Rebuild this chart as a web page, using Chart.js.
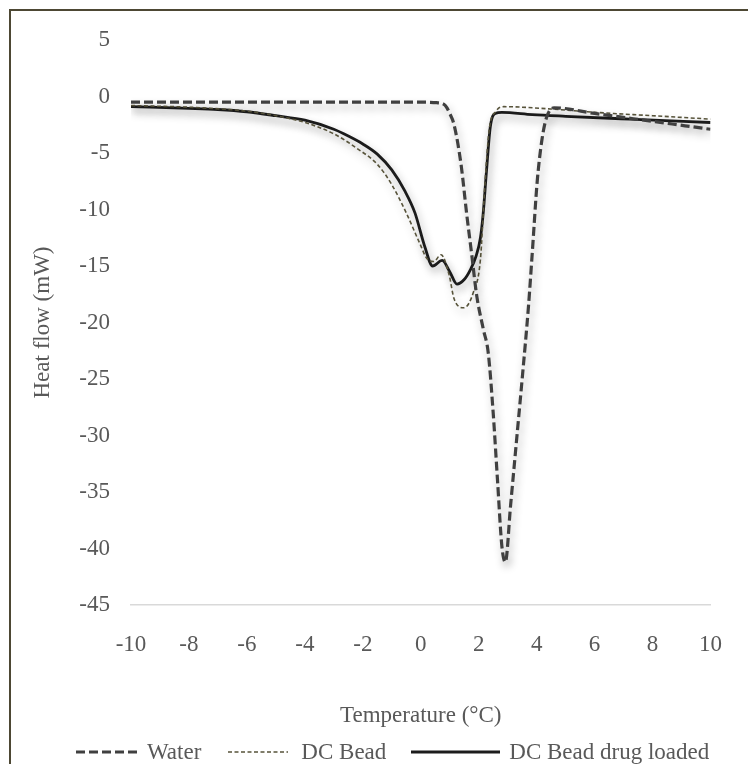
<!DOCTYPE html>
<html>
<head>
<meta charset="utf-8">
<title>Heat flow</title>
<script src="https://cdn.jsdelivr.net/npm/chart.js@4.4.1/dist/chart.umd.min.js"></script>
<style>
  html, body { margin: 0; padding: 0; background: #fff; overflow: hidden; }
  #wrap { position: relative; width: 748px; height: 764px; overflow: hidden; }
  #frame { position: absolute; left: 9px; top: 9px; width: 780px; height: 800px; border: 2px solid #4d4834; box-sizing: border-box; pointer-events: none; }
  #legend { position: absolute; left: 76px; top: 738px; height: 28px; display: flex; align-items: center; font: 23px "Liberation Serif", serif; color: #595959; white-space: nowrap; }
  .item { display: flex; align-items: center; }
  .item svg { display: block; }
</style>
</head>
<body>
<div id="wrap">
  <canvas id="chart" width="748" height="764"></canvas>
  <div id="frame"></div>
  <div id="legend"></div>
</div>
<script>
// ---------------- DATA ----------------

const seriesNames = ["Water", "DC Bead", "DC Bead drug loaded"];

const tempTicks = [-10, -8, -6, -4, -2, 0, 2, 4, 6, 8, 10];
const heatTicks = [5, 0, -5, -10, -15, -20, -25, -30, -35, -40, -45];

// Water
const waterT  = [-10, -6, -2, 0, 0.55, 0.85, 1.0, 1.15, 1.39, 1.59, 1.76, 1.93, 2.16, 2.33, 2.5, 2.65, 2.8, 2.92, 3.1, 3.3, 3.5, 3.72, 3.85, 4.02, 4.19, 4.35, 4.6, 6, 8, 10];
const waterHF = [-0.5, -0.5, -0.5, -0.5, -0.55, -0.8, -1.5, -2.5, -6, -10.5, -14, -17.6, -20.6, -22.7, -28, -34, -39.8, -41.2, -36.2, -30.6, -25, -18.5, -13.8, -7.5, -3.7, -1.8, -1.0, -1.5, -2.2, -2.9];

// DC Bead
const beadT  = [-10, -8, -6, -5, -4, -3, -2.2, -1.5, -1.0, -0.5, 0, 0.2, 0.45, 0.7, 0.98, 1.15, 1.49, 1.82, 2.06, 2.2, 2.36, 2.6, 2.87, 4.46, 6, 8, 10];
const beadHF = [-0.8, -0.95, -1.3, -1.7, -2.3, -3.3, -4.6, -6.0, -7.8, -10.3, -13.2, -14.3, -14.6, -14.0, -15.8, -17.9, -18.7, -17.3, -14.4, -8.4, -3, -1.3, -0.9, -1.1, -1.4, -1.7, -2.0];

// DC Bead drug loaded
const loadedT  = [-10, -8, -7, -6, -5, -4, -3, -2.5, -2, -1.5, -1, -0.54, -0.2, 0.14, 0.41, 0.74, 1.0, 1.25, 1.5, 1.72, 1.9, 2.06, 2.16, 2.26, 2.4, 2.57, 2.8, 3.85, 5, 7.2, 10];
const loadedHF = [-0.9, -1.05, -1.15, -1.35, -1.7, -2.1, -2.9, -3.5, -4.2, -5.1, -6.5, -8.4, -10.3, -13.3, -15.0, -14.5, -15.5, -16.6, -16.2, -15.3, -14.2, -12.5, -10.2, -6.9, -2.7, -1.5, -1.4, -1.6, -1.75, -2.0, -2.3];

// ---------------- STYLE ----------------

const textColor = "#595959";
const fontFamily = "'Liberation Serif', 'Times New Roman', serif";

// legend sample length, gap to text, space after the item
const styles = [
    { color: "#404040", width: 3.2, dash: [9, 4], sample: 63, gap: 8, after: 27 },
    { color: "#57533a", width: 1.6, dash: [4, 2.5], sample: 60, gap: 13, after: 25 },
    { color: "#1c1c1c", width: 2.8, dash: [], sample: 89, gap: 9, after: 0 }
];

function points(xs, ys) {
    return xs.map((x, i) => ({ x: x, y: ys[i] }));
}

// Excel-like soft shadow under the curves
const lineShadow = {
    id: "lineShadow",
    beforeDatasetsDraw(chart) {
        const ctx = chart.ctx;
        ctx.save();
        ctx.shadowColor = "rgba(0,0,0,0.33)";
        ctx.shadowBlur = 8;
        ctx.shadowOffsetX = 2;
        ctx.shadowOffsetY = 5;
    },
    afterDatasetsDraw(chart) {
        chart.ctx.restore();
    }
};

const allData = [points(waterT, waterHF), points(beadT, beadHF), points(loadedT, loadedHF)];

const datasets = seriesNames.map((name, i) => ({
    label: name,
    data: allData[i],
    borderColor: styles[i].color,
    borderWidth: styles[i].width,
    borderDash: styles[i].dash,
    fill: false,
    pointRadius: 0,
    cubicInterpolationMode: "monotone"
}));

const ctx = document.getElementById("chart");

new Chart(ctx, {
    type: "line",
    data: { datasets: datasets },
    options: {
        responsive: false,
        animation: false,
        layout: { padding: { left: 10, right: 25, top: 40, bottom: 30 } },
        plugins: {
            legend: { display: false },
            tooltip: { enabled: false }
        },
        scales: {
            x: {
                type: "linear",
                min: -10,
                max: 10,
                afterBuildTicks: s => { s.ticks = tempTicks.map(v => ({ value: v })); },
                afterFit: s => { s.height = 129; },
                grid: { display: false, drawTicks: false },
                border: { display: true, color: "#d9d9d9", width: 1.5 },
                ticks: {
                    padding: 26,
                    color: textColor,
                    maxRotation: 0,
                    font: { family: fontFamily, size: 23 }
                },
                title: {
                    display: true,
                    text: "Temperature (°C)",
                    color: textColor,
                    font: { family: fontFamily, size: 23 },
                    padding: { top: 0, bottom: 4 }
                }
            },
            y: {
                type: "linear",
                min: -45,
                max: 5,
                afterBuildTicks: s => { s.ticks = heatTicks.map(v => ({ value: v })); },
                afterFit: s => { s.width = 121; },
                grid: { display: false, drawTicks: false },
                border: { display: false },
                ticks: {
                    padding: 21,
                    color: textColor,
                    font: { family: fontFamily, size: 23 }
                },
                title: {
                    display: true,
                    text: "Heat flow (mW)",
                    color: textColor,
                    font: { family: fontFamily, size: 23 },
                    padding: { top: 19, bottom: 0 }
                }
            }
        }
    },
    plugins: [lineShadow]
});

// ---------------- LEGEND ----------------

const legend = document.getElementById("legend");

seriesNames.forEach((name, i) => {
    const st = styles[i];
    const item = document.createElement("span");
    item.className = "item";
    item.style.marginRight = st.after + "px";
    item.innerHTML =
        `<svg width="${st.sample}" height="12" style="margin-right:${st.gap}px">
            <line x1="0" y1="6" x2="${st.sample}" y2="6" stroke="${st.color}"
                  stroke-width="${st.width}" stroke-dasharray="${st.dash.join(" ") || "none"}"/>
        </svg><span>${name}</span>`;
    legend.appendChild(item);
});
</script>
</body>
</html>
